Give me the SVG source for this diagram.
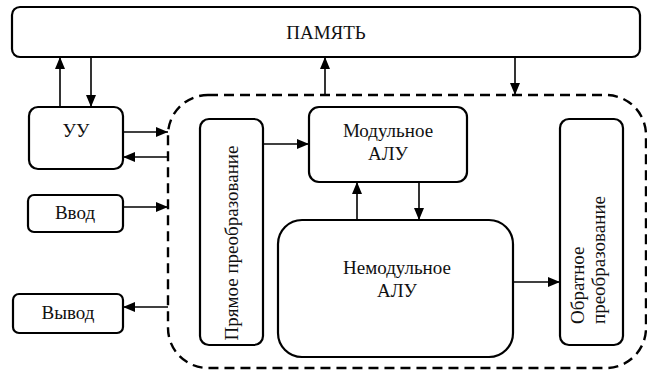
<svg xmlns="http://www.w3.org/2000/svg" width="647" height="372" viewBox="0 0 647 372">
<style>
.box{fill:#fff;stroke:#000;stroke-width:2.2}
.t{fill:#111;text-anchor:middle}
.c{stroke:#000;stroke-width:1.6;fill:none}
.dash{fill:none;stroke:#000;stroke-width:2.4;stroke-dasharray:10,6}
</style>
<defs>
<marker id="a" viewBox="0 0 12 10" refX="12" refY="5" markerWidth="12" markerHeight="10" markerUnits="userSpaceOnUse" orient="auto"><path d="M0,0 L12,5 L0,10 z" fill="#000"/></marker>
</defs>
<rect width="647" height="372" fill="#fff"/>
<g font-family="Liberation Serif, DejaVu Serif, serif" font-size="19">
<g id="mem"><rect class="box" x="12" y="7" width="628" height="50" rx="8"/><text class="t" x="326" y="39">ПАМЯТЬ</text></g>
<g id="frame"><rect class="dash" x="168" y="95" width="478" height="273" rx="40"/></g>
<g id="uu"><rect class="box" x="29" y="107" width="94" height="62" rx="9"/><text class="t" x="76" y="137">УУ</text></g>
<g id="vvod"><rect class="box" x="28" y="195" width="95" height="37" rx="6"/><text class="t" x="75" y="219">Ввод</text></g>
<g id="vyvod"><rect class="box" x="13" y="294" width="110" height="39" rx="6"/><text class="t" x="68" y="319">Вывод</text></g>
<g id="pryamoe"><rect class="box" x="200" y="119" width="63" height="226" rx="9"/><text class="t" transform="translate(238,243) rotate(-90)">Прямое  преобразование</text></g>
<g id="modul"><rect class="box" x="309" y="107" width="158" height="75" rx="10"/><text class="t" x="388" y="137">Модульное</text><text class="t" x="388" y="160">АЛУ</text></g>
<g id="nemodul"><rect class="box" x="278" y="220" width="235" height="137" rx="24"/><text class="t" x="397" y="274">Немодульное</text><text class="t" x="397" y="297">АЛУ</text></g>
<g id="obr"><rect class="box" x="560" y="119" width="63" height="226" rx="9"/><text class="t" style="text-anchor:start" transform="translate(584,324) rotate(-90)">Обратное</text><text class="t" style="text-anchor:start" transform="translate(605,324) rotate(-90)">преобразование</text></g>
</g>
<g id="connectors">
<path class="c" d="M60,107 L60,57" marker-end="url(#a)"/>
<path class="c" d="M91,57 L91,107" marker-end="url(#a)"/>
<path class="c" d="M325,95 L325,57" marker-end="url(#a)"/>
<path class="c" d="M515,57 L515,95" marker-end="url(#a)"/>
<path class="c" d="M123,132 L168,132" marker-end="url(#a)"/>
<path class="c" d="M168,157 L123,157" marker-end="url(#a)"/>
<path class="c" d="M123,207 L168,207" marker-end="url(#a)"/>
<path class="c" d="M168,307 L123,307" marker-end="url(#a)"/>
<path class="c" d="M263,144 L309,144" marker-end="url(#a)"/>
<path class="c" d="M357,220 L357,182" marker-end="url(#a)"/>
<path class="c" d="M419,182 L419,220" marker-end="url(#a)"/>
<path class="c" d="M513,282 L560,282" marker-end="url(#a)"/>
</g>
</svg>
